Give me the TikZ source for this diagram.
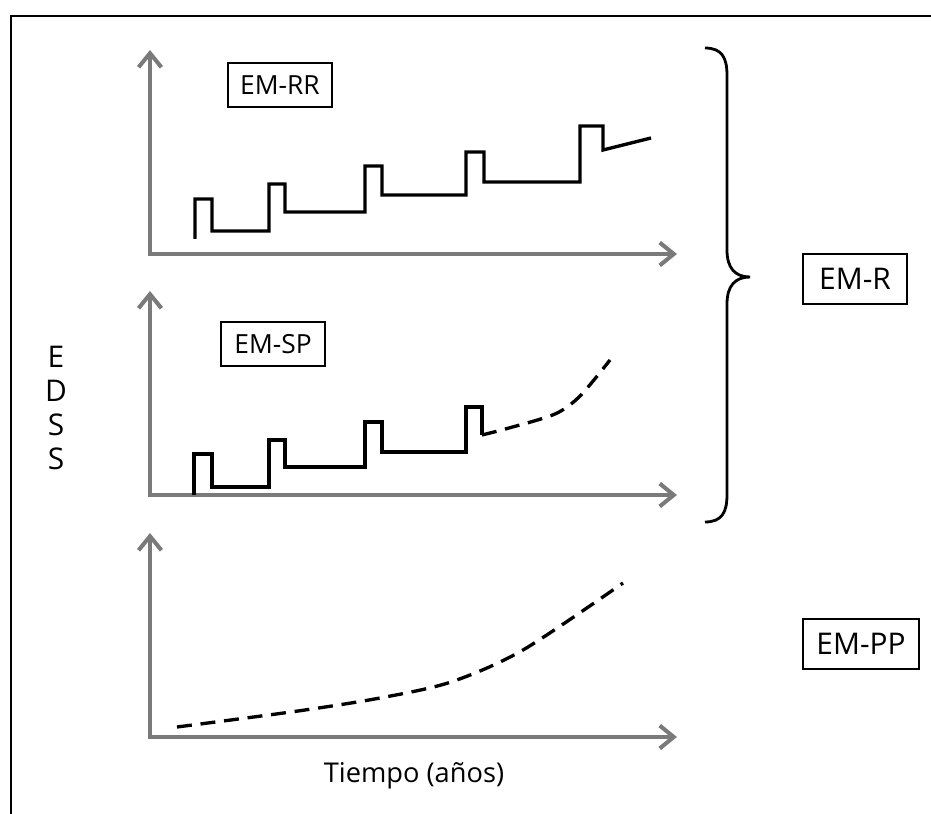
\documentclass[tikz,border=0pt]{standalone}
\usepackage{fontspec}
\setmainfont{Open Sans}
\usetikzlibrary{arrows.meta}
\tikzset{
  axis/.style={line width=2.3pt, black!52, line cap=round,
    {Straight Barb[length=8pt,width=13pt]}-{Straight Barb[length=8pt,width=13pt]}},
  course/.style={line width=1.9pt, line join=miter},
  trend/.style={course, dash pattern=on 8.5pt off 5pt},
  tagbox/.style={draw, line width=0.6pt, inner sep=0pt, minimum width=2.08cm,
    minimum height=0.88cm, font=\fontsize{15}{17}\selectfont},
  typebox/.style={tagbox, minimum height=1cm, font=\fontsize{17}{19}\selectfont}
}
\begin{document}
\begin{tikzpicture}[x=0.02cm, y=-0.02cm]
        \useasboundingbox (0,0) rectangle (931,814);
        %Frame
        \draw[line width=1.5pt] (11,814) -- (11,16) -- (931,16);
        %Axes
        \foreach \y in {254, 495, 737}
          \draw[axis] (150,\y-204) -- (150,\y) -- (677,\y);
        %Relapsing-remitting course
        \draw[course] (195,239) -- (195,199) -- (212,199) -- (212,231) -- (269,231)
          -- (269,184) -- (285,184) -- (285,212) -- (365,212) -- (365,166) -- (382,166)
          -- (382,195) -- (466,195) -- (466,152) -- (484,152) -- (484,182) -- (580,182)
          -- (580,126) -- (603,126) -- (603,150) -- (651,138);
        %Secondary progressive course
        \draw[course] (194,495) -- (194,454) -- (212,454) -- (212,487) -- (269,487)
          -- (269,440) -- (285,440) -- (285,467) -- (365,467) -- (365,422) -- (382,422)
          -- (382,452) -- (466,452) -- (466,407) -- (482,407) -- (482,435);
        \draw[trend] plot[smooth] coordinates {(482,435) (509,428) (555,414) (580,396) (610,360)};
        %Primary progressive course
        \draw[trend] plot[smooth] coordinates {(177,727) (298,711) (380,698) (451,682) (523,650) (623,583)};
        %Brace
        \draw[line width=1.6pt] (705,48) .. controls (722,48) and (727,58) .. (727,75)
          -- (727,250) .. controls (727,268) and (735,277) .. (750,277)
          .. controls (735,277) and (727,286) .. (727,304)
          -- (727,495) .. controls (727,512) and (722,522) .. (705,522);
        %Labels
        \node[tagbox] (rr) at (280,85) {EM-RR};
        \node[tagbox] (sp) at (273,344) {EM-SP};
        \node[typebox] (r) at (855,279) {EM-R};
        \node[typebox, minimum width=2.32cm] (pp) at (861,644) {EM-PP};
        \node[align=center, font=\fontsize{17}{19.3}\selectfont] (edss) at (56,408) {E\\D\\S\\S};
        \node[font=\fontsize{15.5}{18}\selectfont] (time) at (414,776) {Tiempo (años)};
      \end{tikzpicture}
\end{document}
